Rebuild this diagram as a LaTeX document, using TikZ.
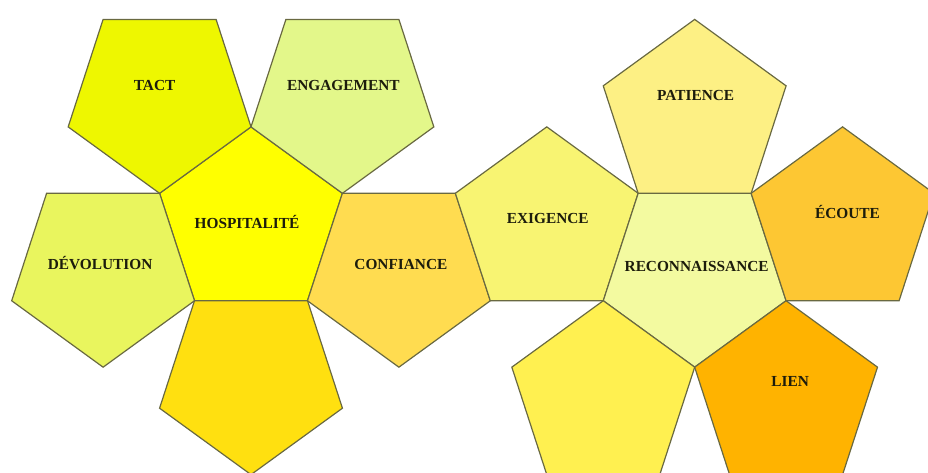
\documentclass[tikz,border=0pt]{standalone}
\usepackage{fontspec}
\setmainfont{Liberation Serif}
\usetikzlibrary{calc,shapes.geometric}

\definecolor{bord}{RGB}{105,105,65}
\definecolor{encre}{RGB}{28,28,12}
\definecolor{cTact}{RGB}{238,247,0}
\definecolor{cEngag}{RGB}{227,247,138}
\definecolor{cHosp}{RGB}{255,255,0}
\definecolor{cDevol}{RGB}{233,245,94}
\definecolor{cBasG}{RGB}{255,224,16}
\definecolor{cConf}{RGB}{255,220,80}
\definecolor{cExig}{RGB}{248,244,114}
\definecolor{cPat}{RGB}{253,240,132}
\definecolor{cReco}{RGB}{243,250,160}
\definecolor{cEcou}{RGB}{253,199,51}
\definecolor{cLien}{RGB}{255,179,0}
\definecolor{cBasD}{RGB}{255,240,80}

\begin{document}
\begin{tikzpicture}[x=0.75pt,y=0.75pt,
  face/.style={draw=bord, line width=0.9pt, regular polygon, regular polygon sides=5,
    minimum size=144.2pt, inner sep=0pt, outer sep=0pt},
  down/.style={face, shape border rotate=180},
  tag/.style={font=\fontsize{11.5}{13}\selectfont\bfseries, text=encre, inner sep=0pt}]

\useasboundingbox (0,0) rectangle (928,-473);

% Face centrale gauche et ses voisines
\node[face, fill=cHosp] (hosp) at (251,-223) {};
\node[down, fill=cTact]  (tact)  at ($(hosp)+(126:155.5)$) {};
\node[down, fill=cEngag] (engag) at ($(hosp)+(54:155.5)$) {};
\node[down, fill=cDevol] (devol) at ($(hosp)+(198:155.5)$) {};
\node[down, fill=cBasG]  (basg)  at ($(hosp)+(270:155.5)$) {};
\node[down, fill=cConf]  (conf)  at ($(hosp)+(342:155.5)$) {};

% Pont vers la partie droite
\node[face, fill=cExig] (exig) at ($(conf)+(18:155.5)$) {};
\node[down, fill=cReco] (reco) at ($(exig)+(342:155.5)$) {};

% Voisines de la face centrale droite
\node[face, fill=cPat]  (pat)  at ($(reco)+(90:155.5)$) {};
\node[face, fill=cEcou] (ecou) at ($(reco)+(18:155.5)$) {};
\node[face, fill=cLien] (lien) at ($(reco)+(306:155.5)$) {};
\node[face, fill=cBasD] (basd) at ($(reco)+(234:155.5)$) {};

% Textes
\node[tag] (tact-t)  at ($(tact)+(-5,12)$)  {TACT};
\node[tag] (engag-t) at ($(engag)+(1,12)$)  {ENGAGEMENT};
\node[tag] (hosp-t)  at ($(hosp)+(-4,1)$)   {HOSPITALITÉ};
\node[tag] (devol-t) at ($(devol)+(-3,8)$)  {DÉVOLUTION};
\node[tag] (conf-t)  at ($(conf)+(2,7)$)    {CONFIANCE};
\node[tag] (exig-t)  at ($(exig)+(1,4)$)    {EXIGENCE};
\node[tag] (pat-t)   at ($(pat)+(1,20)$)    {PATIENCE};
\node[tag] (ecou-t)  at ($(ecou)+(5,11)$)   {ÉCOUTE};
\node[tag] (reco-t)  at ($(reco)+(2,5)$)    {RECONNAISSANCE};
\node[tag] (lien-t)  at ($(lien)+(4,15)$)   {LIEN};

\end{tikzpicture}
\end{document}
